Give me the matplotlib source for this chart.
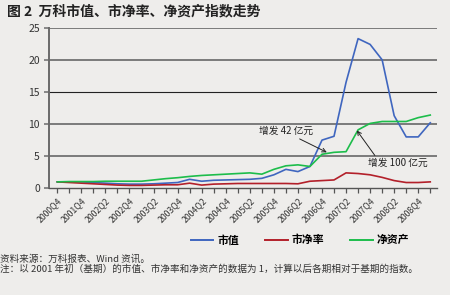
import matplotlib
matplotlib.use("Agg")
import matplotlib.pyplot as plt
from matplotlib.patches import Rectangle
from matplotlib.lines import Line2D

plt.rcParams['font.family'] = ['Noto Sans CJK SC', 'DejaVu Sans']

# quarterly index values (2001 start = 1)
market_value = [1.0, 1.0, 1.0, 0.9, 0.8, 0.7, 0.65, 0.65, 0.7, 0.8,
                0.9, 1.4, 1.1, 1.25, 1.3, 1.35, 1.4, 1.55, 2.1, 2.95,
                2.6, 3.4, 7.5, 8.1, 16.5, 23.3, 22.4, 20.0, 11.3, 8.0,
                8.0, 10.2]
pb_ratio = [1.0, 0.9, 0.8, 0.7, 0.6, 0.5, 0.45, 0.45, 0.5, 0.55,
            0.55, 0.8, 0.5, 0.65, 0.7, 0.75, 0.75, 0.75, 0.75, 0.75,
            0.7, 1.1, 1.2, 1.3, 2.4, 2.3, 2.1, 1.7, 1.2, 0.9,
            0.9, 1.0]
net_assets = [1.0, 1.05, 1.05, 1.05, 1.1, 1.1, 1.1, 1.1, 1.3, 1.5,
              1.65, 1.85, 2.0, 2.1, 2.2, 2.3, 2.4, 2.2, 2.95, 3.5,
              3.65, 3.4, 5.3, 5.6, 5.7, 9.1, 10.1, 10.4, 10.4, 10.4,
              11.0, 11.4]
tick_labels = ['2000Q4', '2001Q4', '2002Q2', '2002Q4', '2003Q2', '2003Q4',
               '2004Q2', '2004Q4', '2005Q2', '2005Q4', '2006Q2', '2006Q4',
               '2007Q2', '2007Q4', '2008Q2', '2008Q4']
series_names = ['市值', '市净率', '净资产']

bg = '#eeedeb'
colors = ['#3f66bf', '#b3202a', '#1dbd4b']

fig = plt.figure(figsize=(4.5, 3.04), dpi=100, facecolor=bg)
# white strip at the very bottom
fig.patches.append(Rectangle((0, 0), 1, 9 / 304, transform=fig.transFigure,
                             facecolor='white', edgecolor='none', zorder=0))

ax = fig.add_axes([49 / 450, 1 - 188.3 / 304, 388 / 450, 160.6 / 304])
ax.set_facecolor(bg)

x = list(range(len(market_value)))
for vals, c in zip([market_value, pb_ratio, net_assets], colors):
    ax.plot(x, vals, color=c, lw=1.2, zorder=3)

ax.set_xlim(-0.69, 31.56)
ax.set_ylim(0, 25)

# gridlines (the 15 line is thin black in the original)
for yv in [5, 10, 20, 25]:
    ax.axhline(yv, color='#7a7a7a', lw=1.4, zorder=1)
ax.axhline(15, color='#222222', lw=0.8, zorder=1)

ax.set_yticks([0, 5, 10, 15, 20, 25])
ax.set_xticks(x)
ax.set_xticklabels([tick_labels[i // 2] if i % 2 == 0 else '' for i in x],
                   rotation=45, ha='right', rotation_mode='anchor')
ax.tick_params(axis='x', length=3.5, width=0.9, color='#555555',
               labelsize=6.3, labelcolor='#333333', pad=2)
ax.tick_params(axis='y', length=3.5, width=1.2, color='#777777',
               labelsize=7.5, labelcolor='#333333', pad=3)
for side in ['top', 'right']:
    ax.spines[side].set_visible(False)
ax.spines['left'].set_color('#6a6a6a')
ax.spines['left'].set_linewidth(1.4)
ax.spines['bottom'].set_color('#555555')
ax.spines['bottom'].set_linewidth(1.0)

# annotations for the share issues
arrow = dict(arrowstyle='->', color='#222222', lw=0.7, shrinkA=0, shrinkB=0)
ax.annotate('增发 42 亿元', xy=(22.4, 5.6), xytext=(19.0, 8.9),
            fontsize=7, color='#222222', ha='center', va='center',
            arrowprops=dict(arrow, relpos=(0.65, 0.0)), zorder=4)
ax.annotate('增发 100 亿元', xy=(24.9, 9.0), xytext=(28.3, 3.9),
            fontsize=7, color='#222222', ha='center', va='center',
            arrowprops=dict(arrow, relpos=(0.15, 1.0)), zorder=4)

fig.text(7 / 450, 1 - 11 / 304, '图 2  万科市值、市净率、净资产指数走势',
         fontsize=10, fontweight='bold', color='#222222', va='center')

handles = [Line2D([], [], color=c, lw=1.4) for c in colors]
fig.legend(handles, series_names, loc='center', ncol=3, frameon=False,
           bbox_to_anchor=(300 / 450, 1 - 240 / 304),
           prop={'size': 7.8, 'weight': 'bold'},
           handlelength=2.1, handletextpad=0.35, columnspacing=2.4)

fig.text(0, 1 - 259 / 304, '资料来源：万科报表、Wind 资讯。',
         fontsize=6.9, color='#333333', va='center')
fig.text(0, 1 - 269 / 304,
         '注：以 2001 年初（基期）的市值、市净率和净资产的数据为 1，计算以后各期相对于基期的指数。',
         fontsize=6.9, color='#333333', va='center')

fig.savefig('out.png', dpi=100, facecolor=bg)
